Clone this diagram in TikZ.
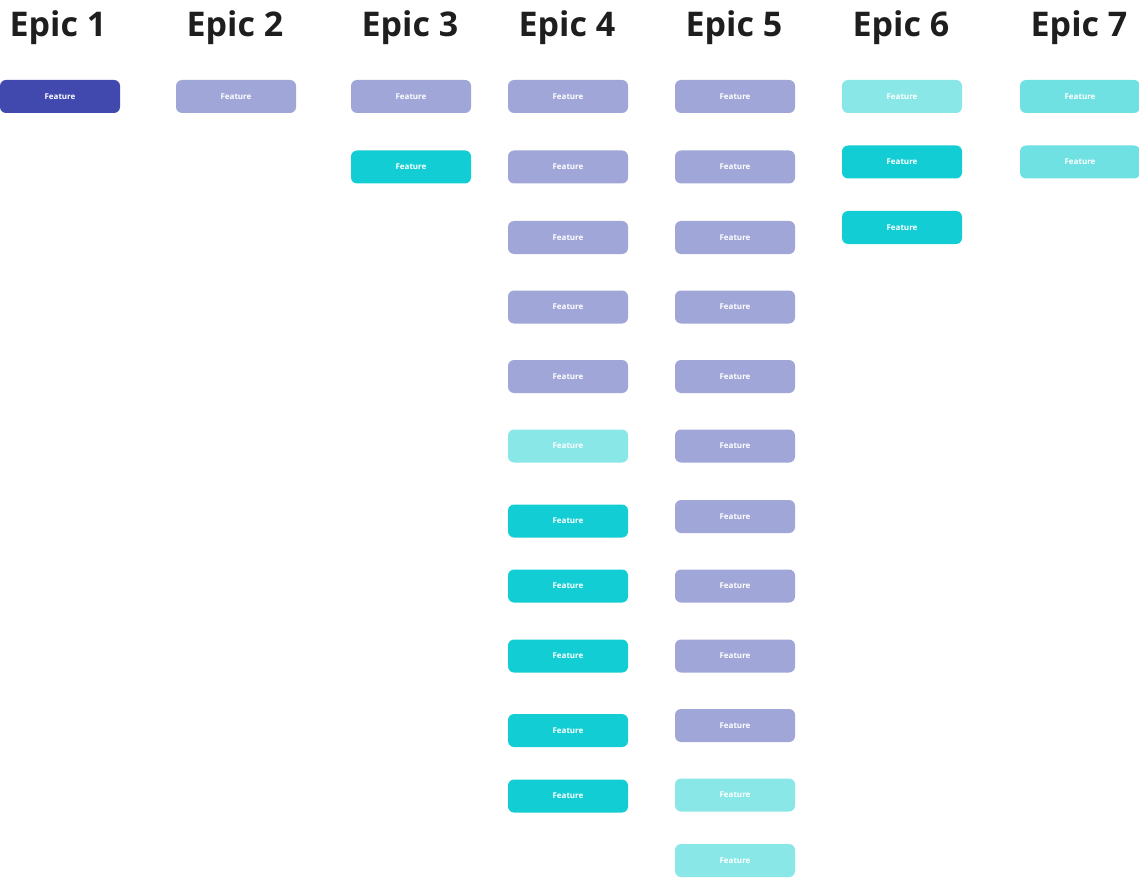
\documentclass[tikz,border=0pt]{standalone}
\usepackage{fontspec}
\setmainfont{Open Sans}
\definecolor{epic dark}{HTML}{4148AE}
\definecolor{lavender}{HTML}{A0A6D7}
\definecolor{teal full}{HTML}{12CED4}
\definecolor{teal light}{HTML}{8AE7E8}
\definecolor{teal mid}{HTML}{6FE1E3}
\definecolor{title ink}{HTML}{1E1E1E}
\tikzset{
  feat/.style={rounded corners=6pt, minimum width=120pt, minimum height=33pt,
    inner sep=0pt, text=white, font=\bfseries\fontsize{8}{9}\selectfont},
  featD/.style={feat, fill=epic dark},
  featL/.style={feat, fill=lavender},
  featT/.style={feat, fill=teal full},
  featP/.style={feat, fill=teal light},
  featM/.style={feat, fill=teal mid},
  epic/.style={anchor=base, text=title ink, font=\bfseries\fontsize{34}{40}\selectfont}
}
\begin{document}
\begin{tikzpicture}[x=1pt, y=1pt]
    \useasboundingbox (0,0) rectangle (1139,-877);
    \begin{scope}[xshift=60pt]
      \node[epic] (e1) at (-2,-37) {Epic 1};
      \node[featD] (f11) at (0,-96.5) {Feature};
    \end{scope}
    \begin{scope}[xshift=236pt]
      \node[epic] (e2) at (-1,-37) {Epic 2};
      \node[featL] (f21) at (0,-96.5) {Feature};
    \end{scope}
    \begin{scope}[xshift=411pt]
      \node[epic] (e3) at (-1,-37) {Epic 3};
      \node[featL] (f31) at (0,-96.5) {Feature};
      \node[featT] (f32) at (0,-167) {Feature};
    \end{scope}
    \begin{scope}[xshift=568pt]
      \node[epic] (e4) at (-1,-37) {Epic 4};
      \node[featL] (f41) at (0,-96.5) {Feature};
      \node[featL] (f42) at (0,-167) {Feature};
      \node[featL] (f43) at (0,-237.5) {Feature};
      \node[featL] (f44) at (0,-307) {Feature};
      \node[featL] (f45) at (0,-376.5) {Feature};
      \node[featP] (f46) at (0,-446) {Feature};
      \node[featT] (f47) at (0,-521) {Feature};
      \node[featT] (f48) at (0,-586) {Feature};
      \node[featT] (f49) at (0,-656) {Feature};
      \node[featT] (f410) at (0,-730.5) {Feature};
      \node[featT] (f411) at (0,-796) {Feature};
    \end{scope}
    \begin{scope}[xshift=735pt]
      \node[epic] (e5) at (-1,-37) {Epic 5};
      \node[featL] (f51) at (0,-96.5) {Feature};
      \node[featL] (f52) at (0,-167) {Feature};
      \node[featL] (f53) at (0,-237.5) {Feature};
      \node[featL] (f54) at (0,-307) {Feature};
      \node[featL] (f55) at (0,-376.5) {Feature};
      \node[featL] (f56) at (0,-446) {Feature};
      \node[featL] (f57) at (0,-516.5) {Feature};
      \node[featL] (f58) at (0,-586) {Feature};
      \node[featL] (f59) at (0,-656) {Feature};
      \node[featL] (f510) at (0,-725.5) {Feature};
      \node[featP] (f511) at (0,-795) {Feature};
      \node[featP] (f512) at (0,-860.5) {Feature};
    \end{scope}
    \begin{scope}[xshift=902pt]
      \node[epic] (e6) at (-1,-37) {Epic 6};
      \node[featP] (f61) at (0,-96.5) {Feature};
      \node[featT] (f62) at (0,-162) {Feature};
      \node[featT] (f63) at (0,-227.5) {Feature};
    \end{scope}
    \begin{scope}[xshift=1080pt]
      \node[epic] (e7) at (-1,-37) {Epic 7};
      \node[featM] (f71) at (0,-96.5) {Feature};
      \node[featM] (f72) at (0,-162) {Feature};
    \end{scope}
\end{tikzpicture}
\end{document}
